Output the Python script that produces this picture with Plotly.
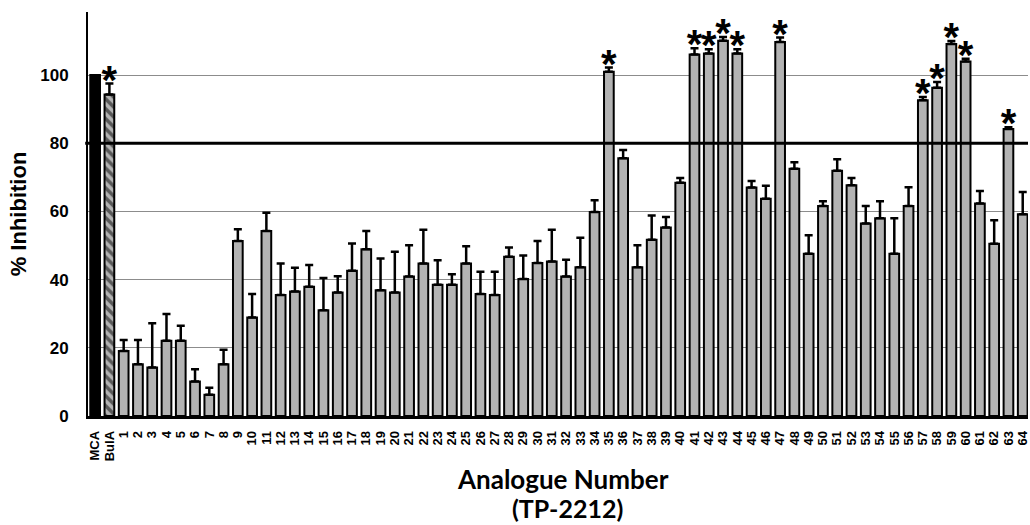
import plotly.graph_objects as go

# Compounds: reference (MCA), comparison (BulA) and 64 analogues of TP-2212
categories = ["MCA", "BulA"] + [str(i) for i in range(1, 65)]

mca_value = 100.0

bula_value = 94.3
bula_err = 3.2

analogue_values = [
    19.1, 15.2, 14.2, 22.1, 22.1, 10.1, 6.2, 15.2, 51.3, 28.9,
    54.3, 35.5, 36.5, 37.9, 31.0, 36.2, 42.6, 48.9, 36.9, 36.2,
    40.9, 44.7, 38.5, 38.5, 44.7, 35.8, 35.5, 46.7, 40.2, 44.9,
    45.3, 40.9, 43.6, 59.8, 101.0, 75.6, 43.6, 51.7, 55.3, 68.4,
    106.0, 106.3, 110.1, 106.3, 67.0, 63.7, 109.7, 72.5, 47.6, 61.6,
    71.9, 67.7, 56.5, 58.0, 47.6, 61.6, 92.6, 96.3, 109.1, 104.0,
    62.3, 50.5, 84.2, 59.2,
]
analogue_errors = [
    3.2, 7.1, 13.0, 7.8, 4.4, 3.6, 2.1, 4.2, 3.5, 6.9,
    5.3, 9.2, 7.0, 6.4, 9.5, 4.8, 8.0, 5.4, 9.3, 12.0,
    9.2, 9.9, 7.2, 3.1, 5.1, 6.5, 6.8, 2.7, 6.9, 6.4,
    9.3, 4.9, 8.7, 3.5, 1.2, 2.4, 6.5, 7.1, 3.1, 1.4,
    1.9, 1.3, 1.1, 1.3, 1.9, 3.8, 1.3, 1.9, 5.4, 1.4,
    3.4, 2.1, 5.1, 5.0, 10.4, 5.5, 1.0, 1.7, 0.9, 0.8,
    3.7, 6.9, 0.5, 6.5,
]

# Compounds marked as significant
significant = ["BulA", "35", "41", "42", "43", "44", "47", "57", "58", "59", "60", "63"]

threshold = 80

bar_gray = "#b3b3b3"
bar_width = 0.68
axis_font = "Liberation Sans, Arial, sans-serif"
title_font = "Lato, Carlito, Calibri, sans-serif"

analogue_cats = categories[2:]

fig = go.Figure()

err_style = dict(type="data", symmetric=False, color="black", thickness=2.5, width=4)

fig.add_trace(go.Bar(
    x=["MCA"], y=[mca_value], width=bar_width,
    marker=dict(color="black", line=dict(color="black", width=2)),
    showlegend=False,
))
fig.add_trace(go.Bar(
    x=["BulA"], y=[bula_value], width=bar_width,
    marker=dict(color=bar_gray, line=dict(color="black", width=2),
                pattern=dict(shape="\\", fgcolor="black", bgcolor=bar_gray,
                             size=7, solidity=0.5)),
    error_y=dict(array=[bula_err], arrayminus=[0], **err_style),
    showlegend=False,
))
fig.add_trace(go.Bar(
    x=analogue_cats, y=analogue_values, width=bar_width,
    marker=dict(color=bar_gray, line=dict(color="black", width=2)),
    error_y=dict(array=analogue_errors, arrayminus=[0] * len(analogue_values), **err_style),
    showlegend=False,
))

# Asterisks above the error bars of significant compounds
lookup = {"BulA": (bula_value, bula_err)}
lookup.update({c: (v, e) for c, v, e in zip(analogue_cats, analogue_values, analogue_errors)})
star_x = significant
star_y = [lookup[c][0] + lookup[c][1] for c in significant]
fig.add_trace(go.Scatter(
    x=star_x, y=star_y, mode="text", text=["*"] * len(star_x),
    textposition="middle center",
    textfont=dict(family=axis_font, size=40, color="black", weight="bold"),
    showlegend=False, cliponaxis=False,
))

# Threshold line at 80 %
fig.add_shape(type="line", xref="paper", yref="y", x0=-0.003, x1=1,
              y0=threshold, y1=threshold, line=dict(color="black", width=3),
              layer="above")

fig.update_layout(
    width=1030, height=525,
    margin=dict(l=88, r=0, t=12, b=109),
    paper_bgcolor="white", plot_bgcolor="white",
    barmode="overlay",
    xaxis=dict(
        type="category", categoryorder="array", categoryarray=categories,
        range=[-0.5, 65.37],
        tickmode="linear", tick0=0, dtick=1,
        tickangle=-90,
        tickfont=dict(family=axis_font, size=13, color="black", weight="bold"),
        showline=True, linecolor="black", linewidth=2.5,
        showgrid=False, ticks="", ticklabelstandoff=7,
    ),
    yaxis=dict(
        range=[0, 118.5],
        tickvals=[0, 20, 40, 60, 80, 100],
        tickfont=dict(family=axis_font, size=17, color="black", weight="bold"),
        showline=True, linecolor="black", linewidth=2,
        showgrid=True, gridcolor="#8c8c8c", gridwidth=1,
        zeroline=False, ticks="", ticklabelstandoff=14,
        title=dict(text="% Inhibition", standoff=8,
                   font=dict(family=axis_font, size=22, color="black", weight="bold")),
    ),
    annotations=[
        dict(text="Analogue Number", xref="paper", yref="paper", x=0.505, y=-0.155,
             xanchor="center", yanchor="middle", showarrow=False,
             font=dict(family=title_font, size=26, color="black", weight="bold")),
        dict(text="(TP-2212)", xref="paper", yref="paper", x=0.51, y=-0.228,
             xanchor="center", yanchor="middle", showarrow=False,
             font=dict(family=title_font, size=25, color="black", weight="bold")),
    ],
)

fig.write_html("out.html")
